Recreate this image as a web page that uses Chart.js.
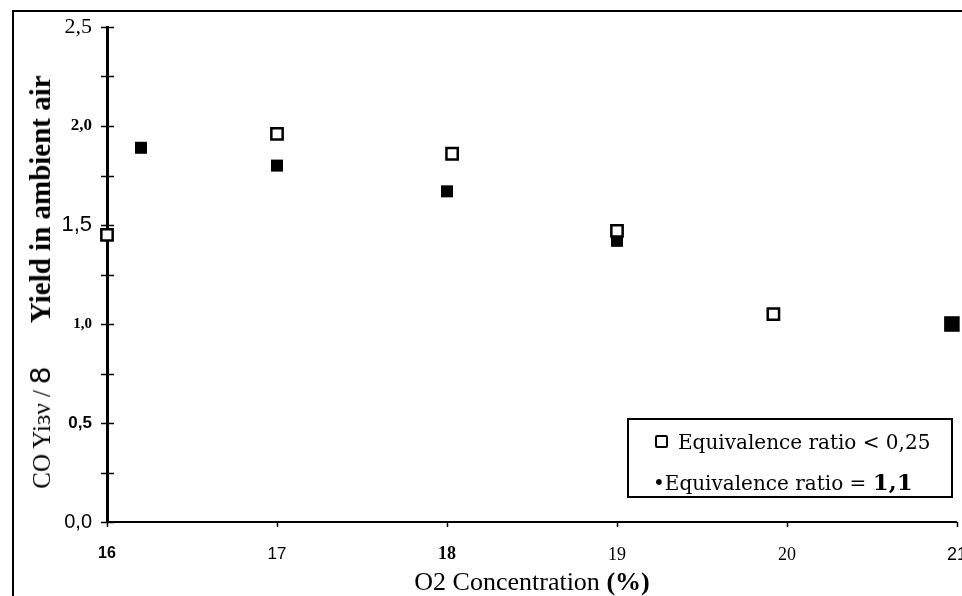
<!DOCTYPE html>
<html>
<head>
<meta charset="utf-8">
<script src="https://cdn.jsdelivr.net/npm/chart.js@4.4.0/dist/chart.umd.min.js"></script>
<style>
  body { margin: 0; width: 962px; height: 596px; overflow: hidden; background: #fff; position: relative; font-family: "Liberation Serif", serif; color: #000; }
  #frame { position: absolute; left: 12px; top: 10px; width: 980px; height: 620px; border-left: 2px solid #000; border-top: 2px solid #000; }
  #wrap { position: absolute; left: 0; top: 0; width: 981px; height: 596px; }
  #ytitle { position: absolute; left: 40px; top: 282px; transform: translate(-50%, -50%) rotate(-90deg); white-space: nowrap; font-size: 25px; }
  #ytitle .s { font-family: "Liberation Sans", sans-serif; font-size: 30px; }
  #ytitle b { font-size: 29px; margin-left: 44px; }
  #xtitle { position: absolute; left: 532px; top: 582px; transform: translate(-50%, -50%); white-space: nowrap; font-size: 26px; }
  #legend { position: absolute; left: 627px; top: 418px; width: 322px; height: 76px; border: 2px solid #000; font-family: "DejaVu Serif", serif; font-size: 20px; }
  #legend .row { position: absolute; left: 0; white-space: nowrap; line-height: 24px; }
  #legend .row b { font-size: 23px; }
  #legend .sq { display: inline-block; width: 9px; height: 9px; border: 2.5px solid #000; border-radius: 2px; margin: 0 10px 0 0; vertical-align: 1px; }
</style>
</head>
<body>
<div id="frame"></div>
<div id="wrap"><canvas id="myChart"></canvas></div>
<div id="ytitle">CO Yiɜν / <span class="s">8</span><b>Yield in ambient air</b></div>
<div id="xtitle">O2 Concentration <b>(%)</b></div>
<div id="legend">
  <div class="row" style="top:10px;left:26px"><span class="sq"></span>Equivalence ratio &lt; 0,25</div>
  <div class="row" style="top:50px;left:24px">&bull;Equivalence ratio = <b>1,1</b></div>
</div>
<script>
// data
const lowRatioO2 = [16, 17, 18.03, 19, 19.92];
const lowRatioYield = [1.45, 1.96, 1.86, 1.47, 1.05];
const highRatioO2 = [16.2, 17, 18, 19, 20.97];
const highRatioYield = [1.89, 1.80, 1.67, 1.42, 1.0];
const xTicks = [16, 17, 18, 19, 20, 21];
const yTicks = [0, 0.5, 1, 1.5, 2, 2.5];

// the scan mixes fonts on the tick labels
const xTickFonts = [
  { family: 'Liberation Sans', size: 16, weight: 'bold' },
  { family: 'Liberation Sans', size: 17 },
  { family: 'Liberation Serif', size: 18, weight: 'bold' },
  { family: 'Liberation Serif', size: 18 },
  { family: 'Liberation Serif', size: 18 },
  { family: 'Liberation Sans', size: 18 }
];
const yTickFonts = [
  { family: 'Liberation Sans', size: 20 },
  { family: 'Liberation Sans', size: 17, weight: 'bold' },
  { family: 'Liberation Serif', size: 15, weight: 'bold' },
  { family: 'Liberation Sans', size: 22 },
  { family: 'Liberation Serif', size: 17, weight: 'bold' },
  { family: 'Liberation Serif', size: 22 }
];

const toPoints = (xs, ys) => xs.map((v, i) => ({ x: v, y: ys[i] }));

// small tick marks crossing the axes
const axisTicks = {
  id: 'axisTicks',
  beforeDatasetsDraw(chart) {
    const { ctx, scales: { x, y } } = chart;
    ctx.save();
    ctx.strokeStyle = '#000';
    ctx.lineWidth = 1.5;
    ctx.beginPath();
    for (let v = 0; v <= 2.5; v += 0.25) {
      const py = Math.round(y.getPixelForValue(v)) + 0.5;
      ctx.moveTo(x.left - 6, py);
      ctx.lineTo(x.left + 7, py);
    }
    xTicks.forEach(v => {
      const px = Math.round(x.getPixelForValue(v)) + 0.5;
      ctx.moveTo(px, y.bottom);
      ctx.lineTo(px, y.bottom + 5);
    });
    ctx.stroke();
    ctx.restore();
  }
};

const config = {
  type: 'scatter',
  data: {
    datasets: [{
      label: 'Equivalence ratio < 0,25',
      data: toPoints(lowRatioO2, lowRatioYield),
      pointStyle: 'rect',
      pointRadius: 8,
      pointBorderWidth: 2.5,
      borderColor: '#000',
      backgroundColor: '#fff',
      clip: false
    }, {
      label: 'Equivalence ratio = 1,1',
      data: toPoints(highRatioO2, highRatioYield),
      pointStyle: 'rect',
      pointRadius: [8.5, 8.5, 8.5, 8.5, 11],
      pointBorderWidth: 0,
      borderColor: '#000',
      backgroundColor: '#000',
      clip: false
    }]
  },
  options: {
    animation: false,
    responsive: true,
    maintainAspectRatio: false,
    layout: { padding: { top: 27, right: 0, bottom: 0, left: 0 } },
    plugins: {
      legend: { display: false },
      tooltip: { enabled: false }
    },
    scales: {
      x: {
        type: 'linear',
        min: 16,
        max: 21,
        afterBuildTicks: s => { s.ticks = xTicks.map(v => ({ value: v })); },
        afterFit: s => { s.height = 74; },
        grid: { display: false },
        border: { display: true, color: '#000', width: 2 },
        ticks: {
          color: '#000',
          padding: 14,
          maxRotation: 0,
          autoSkip: false,
          font: ctx => xTickFonts[ctx.index] || xTickFonts[0],
          callback: v => String(v)
        }
      },
      y: {
        type: 'linear',
        min: 0,
        max: 2.5,
        afterBuildTicks: s => { s.ticks = yTicks.map(v => ({ value: v })); },
        afterFit: s => { s.width = 107; },
        grid: { display: false },
        border: { display: true, color: '#000', width: 3 },
        ticks: {
          color: '#000',
          padding: 7,
          autoSkip: false,
          font: ctx => yTickFonts[ctx.index] || yTickFonts[0],
          callback: v => v.toFixed(1).replace('.', ',')
        }
      }
    }
  },
  plugins: [axisTicks]
};

const myChart = new Chart(document.getElementById('myChart'), config);
</script>
</body>
</html>
